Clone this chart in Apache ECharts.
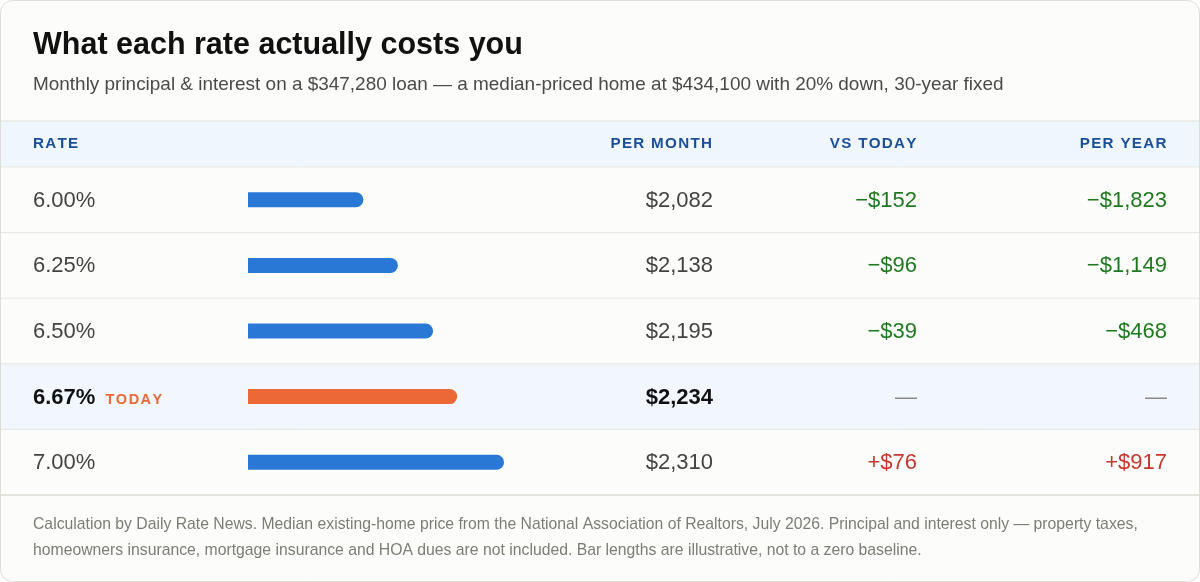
<!DOCTYPE html>
<html lang="en">
<head>
<meta charset="UTF-8">
<script src="https://cdn.jsdelivr.net/npm/echarts@6/dist/echarts.min.js"></script>
<title>What each rate actually costs you</title>
<style>
  html, body { margin: 0; padding: 0; background: #ffffff; }
  #main { width: 1200px; height: 582px; }
</style>
</head>
<body>
<div id="main"></div>
<script type="text/javascript">
// data
var rates = ['6.00%', '6.25%', '6.50%', '6.67%', '7.00%'];
var perMonth = [2082, 2138, 2195, 2234, 2310];
var vsToday = [-152, -96, -39, 0, 76];
var perYear = [-1823, -1149, -468, 0, 917];
var todayIndex = 3;
var headers = ['RATE', 'PER MONTH', 'VS TODAY', 'PER YEAR'];

var FONT = '"Liberation Sans", Arial, sans-serif';
var gridTop = 167, rowH = 65.6;

function money(v) {
    return '$' + Math.abs(v).toLocaleString('en-US');
}
function signed(v) {
    if (v === 0) return '\u2014';
    return (v < 0 ? '\u2212' : '+') + money(v);
}
function diffColor(v) {
    if (v === 0) return '#8a8a8a';
    return v < 0 ? '#1f7a1f' : '#c8372d';
}

// zrender has no letter-spacing, so spaced caps are laid out char by char
var measureCtx = document.createElement('canvas').getContext('2d');
function spacedText(str, x, y, font, spacing, align, fill) {
    measureCtx.font = font;
    var chars = str.split('');
    var widths = chars.map(function (c) { return measureCtx.measureText(c).width; });
    var total = widths.reduce(function (a, b) { return a + b; }, 0) + spacing * (chars.length - 1);
    var cx = align === 'right' ? x - total : x;
    var out = [];
    chars.forEach(function (c, i) {
        if (c !== ' ') {
            out.push({ type: 'text', x: cx, y: y, style: { text: c, font: font, fill: fill, verticalAlign: 'middle' } });
        }
        cx += widths[i] + spacing;
    });
    return out;
}

var myChart = echarts.init(document.getElementById('main'));

var option = {
    backgroundColor: '#ffffff',
    animation: false,
    grid: { left: 248, right: 640.4, top: gridTop, height: rowH * rates.length },
    xAxis: { type: 'value', min: 1895, max: 2400, show: false },
    yAxis: {
        type: 'category',
        inverse: true,
        data: rates,
        axisLine: { show: false },
        axisTick: { show: false },
        splitLine: { show: false },
        axisLabel: {
            align: 'left',
            margin: 215,
            fontFamily: FONT,
            fontSize: 22,
            color: '#444444',
            padding: [2, 0, 0, 0],
            formatter: function (v, i) {
                return i === todayIndex ? '{b|' + v + '}' : v;
            },
            rich: {
                b: { fontFamily: FONT, fontSize: 22, fontWeight: 'bold', color: '#111111' }
            }
        }
    },
    series: [{
        type: 'bar',
        barWidth: 15,
        z: 10,
        data: perMonth.map(function (v, i) {
            return {
                value: v,
                itemStyle: {
                    color: i === todayIndex ? '#ec6836' : '#2a78d6',
                    borderRadius: [0, 7.5, 7.5, 0]
                }
            };
        })
    }]
};
myChart.setOption(option);

// table chrome and text columns, rows placed from the category axis
var els = [];
els.push({ type: 'rect', z: -10, shape: { x: 0.5, y: 0.5, width: 1199, height: 581, r: 12 },
    style: { fill: '#fcfcfa', stroke: '#deded8', lineWidth: 1 } });
els.push({ type: 'text', x: 33, y: 46, style: { text: 'What each rate actually costs you', font: 'bold 30.5px ' + FONT, fill: '#111111', verticalAlign: 'middle' } });
els.push({ type: 'text', x: 33, y: 85, style: { text: 'Monthly principal & interest on a $347,280 loan \u2014 a median-priced home at $434,100 with 20% down, 30-year fixed', font: '18.95px ' + FONT, fill: '#4a4a4a', verticalAlign: 'middle' } });

// header band
els.push({ type: 'rect', z: -5, shape: { x: 1, y: 121, width: 1198, height: 46 }, style: { fill: '#f0f6fe' } });
els.push({ type: 'line', z: -4, shape: { x1: 1, y1: 121, x2: 1199, y2: 121 }, style: { stroke: '#e2e2dc', lineWidth: 1 } });
var colX = [33, 712, 916.5, 1166.5];
headers.forEach(function (h, i) {
    els = els.concat(spacedText(h, colX[i], 143.5, 'bold 15.2px ' + FONT, 1.3, i === 0 ? 'left' : 'right', '#1b4f9a'));
});

// today highlight band and row separators
els.push({ type: 'rect', z: -5, shape: { x: 1, y: gridTop + rowH * todayIndex, width: 1198, height: rowH }, style: { fill: '#f2f7fe' } });
for (var r = 0; r <= rates.length; r++) {
    els.push({ type: 'line', z: -4, shape: { x1: 1, y1: gridTop + rowH * r, x2: 1199, y2: gridTop + rowH * r },
        style: { stroke: r === rates.length ? '#dcdcd6' : '#e6e6e0', lineWidth: r === rates.length ? 1.5 : 1 } });
}

rates.forEach(function (rate, i) {
    var y = myChart.convertToPixel({ yAxisIndex: 0 }, rate) + 1;
    var isToday = i === todayIndex;
    els.push({ type: 'text', x: 713, y: y, style: { text: money(perMonth[i]), font: (isToday ? 'bold ' : '') + '22px ' + FONT, fill: isToday ? '#111111' : '#444444', align: 'right', verticalAlign: 'middle' } });
    els.push({ type: 'text', x: 917, y: y, style: { text: signed(vsToday[i]), font: '22px ' + FONT, fill: diffColor(vsToday[i]), align: 'right', verticalAlign: 'middle' } });
    els.push({ type: 'text', x: 1167, y: y, style: { text: signed(perYear[i]), font: '22px ' + FONT, fill: diffColor(perYear[i]), align: 'right', verticalAlign: 'middle' } });
    if (isToday) {
        els = els.concat(spacedText('TODAY', 105.5, y + 2.5, 'bold 14.5px ' + FONT, 1.5, 'left', '#ec6836'));
    }
});

// footnote
els.push({ type: 'text', x: 33, y: 525, style: { text: 'Calculation by Daily Rate News. Median existing-home price from the National Association of Realtors, July 2026. Principal and interest only \u2014 property taxes,', font: '15.75px ' + FONT, fill: '#7d7d76', verticalAlign: 'middle' } });
els.push({ type: 'text', x: 33, y: 551, style: { text: 'homeowners insurance, mortgage insurance and HOA dues are not included. Bar lengths are illustrative, not to a zero baseline.', font: '15.75px ' + FONT, fill: '#7d7d76', verticalAlign: 'middle' } });

myChart.setOption({ graphic: { elements: els } });
</script>
</body>
</html>
